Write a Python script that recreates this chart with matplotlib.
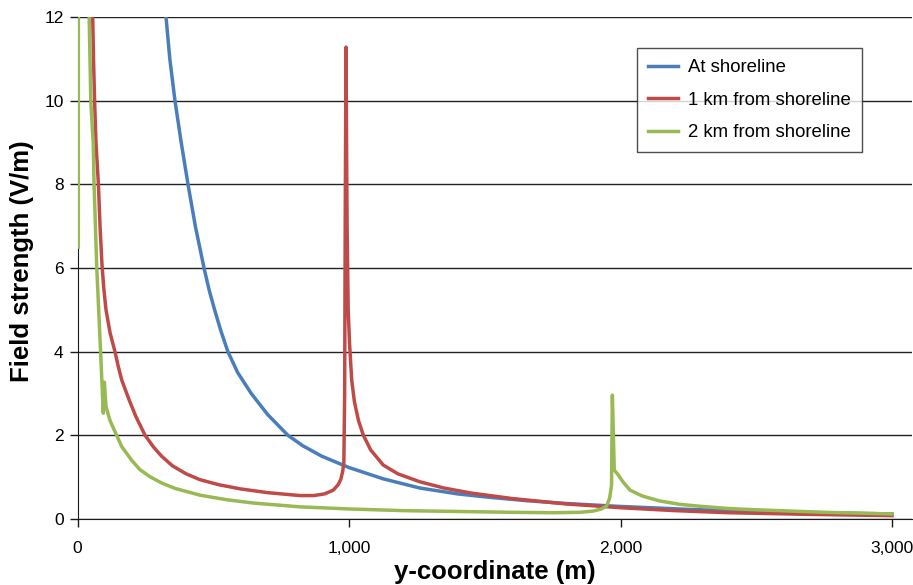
import matplotlib
matplotlib.use("Agg")
import matplotlib.pyplot as plt

# Field strength vs distance along y
shore_x = [326, 340, 359, 382, 407, 434, 466, 485, 505, 528, 554, 590, 640, 700, 775, 830, 900, 1000, 1126,
           1261, 1400, 1500, 1650, 1800, 2000, 2250, 2500, 2750, 3000]
shore_y = [12.0, 11.0, 10.0, 9.0, 8.0, 7.0, 6.0, 5.47, 5.0, 4.5, 4.0, 3.5, 3.0, 2.5, 2.0, 1.75, 1.5, 1.23, 0.96,
           0.74, 0.6, 0.53, 0.44, 0.37, 0.3, 0.23, 0.18, 0.15, 0.12]

km1_x = [56, 59, 63, 68, 77, 83, 90, 97, 105, 120, 138, 150, 163, 190, 215, 249, 280, 310, 350, 400, 451,
         520, 600, 700, 820, 870, 910, 942, 960, 970, 977, 981, 984, 986, 989, 991, 993, 997, 1002, 1010,
         1020, 1035, 1053, 1080, 1126, 1180, 1261, 1350, 1450, 1600, 1800, 2000, 2200, 2400, 2700, 3000]
km1_y = [12.0, 11.0, 10.0, 9.0, 8.0, 7.0, 6.1, 5.5, 5.0, 4.45, 4.0, 3.65, 3.32, 2.85, 2.45, 2.0, 1.72, 1.5,
         1.27, 1.08, 0.94, 0.82, 0.72, 0.63, 0.56, 0.56, 0.6, 0.69, 0.82, 0.95, 1.15, 1.35, 3.0, 7.0, 11.28,
         9.0, 7.0, 5.0, 4.2, 3.32, 2.8, 2.35, 2.0, 1.65, 1.29, 1.08, 0.89, 0.74, 0.62, 0.49, 0.36, 0.27,
         0.2, 0.15, 0.11, 0.08]

km2_x = [3, 5, 40, 43, 49, 55, 58, 61, 71, 85, 95, 99, 105, 120, 144, 163, 200, 230, 267, 310, 360, 451,
         550, 650, 820, 1000, 1200, 1400, 1600, 1750, 1851, 1900, 1930, 1949, 1960, 1967, 1970, 1977,
         1992, 2010, 2035, 2080, 2145, 2220, 2300, 2400, 2500, 2750, 3000]
km2_y = [6.5, 60.0, 60.0, 12.0, 10.0, 9.3, 9.0, 8.0, 6.0, 4.0, 2.53, 3.27, 2.68, 2.35, 2.0, 1.73, 1.4, 1.18,
         1.01, 0.86, 0.73, 0.57, 0.46, 0.38, 0.29, 0.24, 0.2, 0.18, 0.16, 0.15, 0.16, 0.19, 0.24, 0.31,
         0.5, 0.81, 2.96, 1.17, 1.05, 0.88, 0.69, 0.55, 0.43, 0.35, 0.3, 0.25, 0.22, 0.16, 0.12]

plt.rcParams["font.family"] = ["Liberation Sans", "DejaVu Sans"]

fig = plt.figure(figsize=(9.13, 5.85), dpi=100)
# plot area runs past the 3,000 tick to the right edge of the picture
x0, x3000, x_edge = 77.5, 892.0, 912.0
ax = fig.add_axes([x0 / 913, 1 - 519 / 585, (x_edge - x0) / 913, (519 - 17) / 585])

ax.plot(shore_x, shore_y, color="#4a7ebb", lw=2.5, label="At shoreline", zorder=3)
ax.plot(km1_x, km1_y, color="#be4b48", lw=2.5, label="1 km from shoreline", zorder=3)
ax.plot(km2_x, km2_y, color="#98b954", lw=2.5, label="2 km from shoreline", zorder=3)

ax.set_xlim(0, 3000 * (x_edge - x0) / (x3000 - x0))
ax.set_ylim(0, 12)
ax.set_xticks([0, 1000, 2000, 3000])
ax.set_xticklabels(["0", "1,000", "2,000", "3,000"])
ax.set_yticks(range(0, 13, 2))
ax.yaxis.grid(True, color="#222222", lw=1.0, zorder=0)
ax.set_axisbelow(True)

for s in ["top", "right"]:
    ax.spines[s].set_visible(False)
ax.spines["left"].set_color("#1a1a1a")
ax.spines["bottom"].set_color("#1a1a1a")
ax.tick_params(axis="both", direction="out", length=6, width=1, color="#1a1a1a", labelsize=12.5)
ax.tick_params(axis="x", pad=10)
ax.tick_params(axis="y", pad=4)

ax.set_xlabel("y-coordinate (m)", fontsize=18.5, fontweight="bold", labelpad=2.5)
ax.set_ylabel("Field strength (V/m)", fontsize=18.5, fontweight="bold")
ax.yaxis.set_label_coords(-0.052, 0.514)

leg = ax.legend(loc="upper left", bbox_to_anchor=(637 / 913, 1 - 48 / 585),
                bbox_transform=fig.transFigure, fontsize=13.4, frameon=True,
                fancybox=False, edgecolor="#222222", handlelength=1.6,
                handletextpad=0.55, borderpad=0.6, labelspacing=0.83, borderaxespad=0)
leg.get_frame().set_linewidth(1.0)

fig.savefig("out.png", dpi=100)
